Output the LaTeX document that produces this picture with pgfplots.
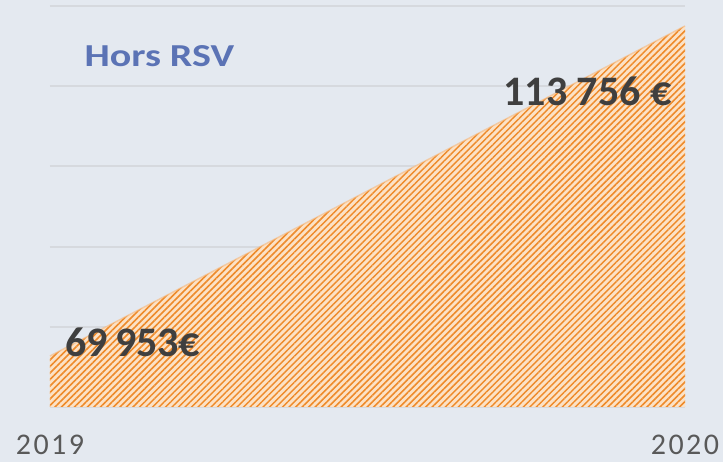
\documentclass[border=0pt]{standalone}
\usepackage{pgfplots}
\pgfplotsset{compat=1.18}
\usepackage{fontspec}
\setmainfont{Carlito}
\newfontfamily\tickfont[LetterSpace=8]{Carlito}
\usetikzlibrary{patterns.meta}
\definecolor{bgc}{HTML}{E4E9F0}
\definecolor{gridc}{HTML}{D6D9DE}
\definecolor{peach}{HTML}{FCE2C6}
\definecolor{orangeL}{HTML}{EE8A2A}
\definecolor{titlec}{HTML}{5B73B5}
\definecolor{labc}{HTML}{3F3F3F}
\definecolor{tickc}{HTML}{595959}
\begin{document}
\begin{tikzpicture}[x=1pt,y=1pt]
\useasboundingbox (0,0) rectangle (723,462);
\fill[bgc] (0,0) rectangle (723,462);
\begin{axis}[
  at={(50pt,55pt)}, anchor=south west,
  scale only axis, width=635pt, height=401pt,
  xmin=2019, xmax=2020,
  ymin=63184, ymax=116409,
  axis line style={draw=none},
  scaled y ticks=false,
  ytick={63184,73829,84474,95119,105764,116409},
  yticklabels={},
  ymajorgrids, major grid style={gridc, line width=2pt},
  xtick={2019,2020},
  xticklabels={2019,2020},
  xticklabel style={font=\tickfont\fontsize{30}{30}\selectfont, text=tickc, anchor=base, yshift=-48pt, inner sep=1pt},
  major tick length=0pt,
  clip=false,
]
\addplot[draw=none, fill=peach,
  postaction={pattern={Lines[angle=45, distance=4.6pt, line width=1.5pt]}, pattern color=orangeL}]
  coordinates {(2019,69953) (2020,113756)} \closedcycle;
\addplot[draw=orangeL!60, line width=1.5pt, opacity=0.6] coordinates {(2019,69953) (2020,113756)};
\node[anchor=base west, font=\bfseries\fontsize{42}{42}\selectfont, text=labc]
  at (axis cs:2019,69953) [xshift=12pt, yshift=-1pt] {69\,953€};
\node[anchor=base east, font=\bfseries\fontsize{42}{42}\selectfont, text=labc]
  at (axis cs:2020,113756) [xshift=-10pt, yshift=-80pt] {113 756 €};
\node[anchor=base west, font=\bfseries\fontsize{32}{32}\selectfont, text=titlec]
  at (rel axis cs:0,1) [xshift=31pt, yshift=-61pt] {\scalebox{1.25}[1]{Hors RSV}};
\end{axis}
\end{tikzpicture}
\end{document}
